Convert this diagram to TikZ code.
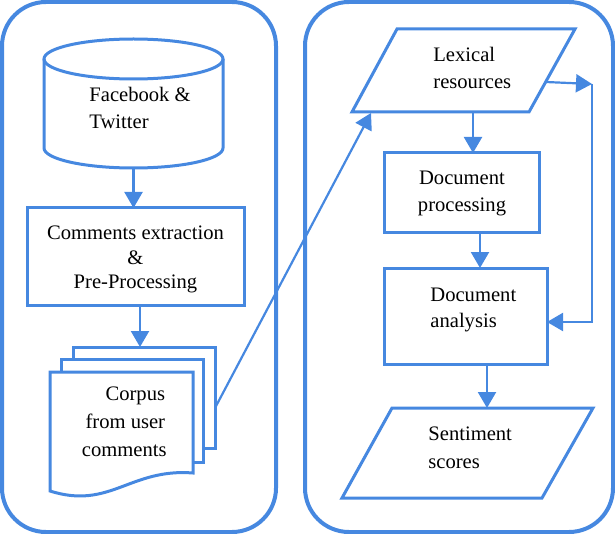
\documentclass[tikz,border=0pt]{standalone}
\usepackage{fontspec}
\setmainfont{Liberation Serif}
\usetikzlibrary{arrows.meta}
\definecolor{fb}{RGB}{70,136,224}
\begin{document}
\begin{tikzpicture}[x=0.5pt,y=-0.5pt,
  shp/.style={draw=fb,line width=1.5pt},
  box/.style={shp,fill=white,inner sep=0pt,outer sep=0pt},
  ghost/.style={inner sep=0pt,outer sep=0pt},
  arr/.style={draw=fb,line width=1.1pt,-{Triangle[width=9pt,length=8pt]}},
  lbl/.style={font=\fontsize{10.3pt}{12pt}\selectfont,inner sep=0pt},
  cont/.style={draw=fb,line width=2pt,rounded corners=22pt}]
\useasboundingbox (0,0) rectangle (615,534);
% containers
\draw[cont] (2,2) rectangle (276,532);
\draw[cont] (305,2) rectangle (613,532);
% cylinder
\node[ghost,minimum width=89.5pt,minimum height=64.5pt] (cyl) at (133.5,103.5) {};
\draw[shp] (44,59) -- (44,148) arc[start angle=180,end angle=0,x radius=89.5,y radius=20] -- (223,59);
\draw[shp] (133.5,59) ellipse[x radius=89.5,y radius=20];
% comments extraction box
\node[box,minimum width=108.5pt,minimum height=48.5pt] (ce) at (135.5,256.5) {};
% multi document
\node[box,minimum width=71pt,minimum height=50.5pt] (dback) at (144,397.5) {};
\node[box,minimum width=71pt,minimum height=51.5pt] (dmid) at (132,410.5) {};
\draw[shp,fill=white] (50,372) -- (193,372) -- (193,473)
  .. controls (130,468) and (110,510) .. (50,491) -- cycle;
% lexical resources
\draw[shp] (397,29) -- (575,29) -- (529,112) -- (352,112) -- cycle;
\coordinate (lexIn) at (371,113);
\coordinate (lexOut) at (546,82);
\coordinate (lexS) at (473,112);
\coordinate (fbk) at (592,84);
% document processing / analysis
\node[box,minimum width=77.5pt,minimum height=40pt] (proc) at (461.5,193) {};
\node[box,minimum width=81.5pt,minimum height=48pt] (ana) at (465.5,316) {};
% sentiment scores
\draw[shp] (392,408) -- (593,408) -- (542,498) -- (342,498) -- cycle;
\coordinate (sentN) at (487,408);
% texts
\node[lbl,anchor=base west] (fb1) at (89,102) {Facebook \&};
\node[lbl,anchor=base west] (fb2) at (89,129) {Twitter};
\node[lbl,anchor=base] (ce1) at (135.5,240) {Comments extraction};
\node[lbl,anchor=base] (ce2) at (135.5,264) {\&};
\node[lbl,anchor=base] (ce3) at (135.5,288) {Pre-Processing};
\node[lbl,anchor=base east] (co1) at (165.5,400) {Corpus};
\node[lbl,anchor=base east] (co2) at (165.5,428) {from user};
\node[lbl,anchor=base east] (co3) at (167,456) {comments};
\node[lbl,anchor=base west] (lx1) at (433,62) {Lexical};
\node[lbl,anchor=base west] (lx2) at (433,89) {resources};
\node[lbl,anchor=base] (pr1) at (462,185) {Document};
\node[lbl,anchor=base] (pr2) at (462,212) {processing};
\node[lbl,anchor=base west] (an1) at (430,301) {Document};
\node[lbl,anchor=base west] (an2) at (430,327) {analysis};
\node[lbl,anchor=base west] (se1) at (428,440) {Sentiment};
\node[lbl,anchor=base west] (se2) at (428,468) {scores};
% connectors
\draw[arr] (cyl.south) -- (cyl.south |- ce.north);
\draw[arr] ([xshift=2.25pt]ce.south) -- ([xshift=2.25pt]ce.south |- dback.north);
\draw[arr] ([yshift=-5.25pt]dback.east) -- (lexIn);
\draw[arr] (lexS) -- (lexS |- proc.north);
\draw[arr] ([xshift=9.25pt]proc.south) -- ([xshift=9.25pt]proc.south |- ana.north);
\draw[arr] ([xshift=10.75pt]ana.south) -- (sentN);
\draw[arr] (lexOut) -- (fbk);
\draw[arr] (fbk) |- ([yshift=-3pt]ana.east);
\end{tikzpicture}
\end{document}
